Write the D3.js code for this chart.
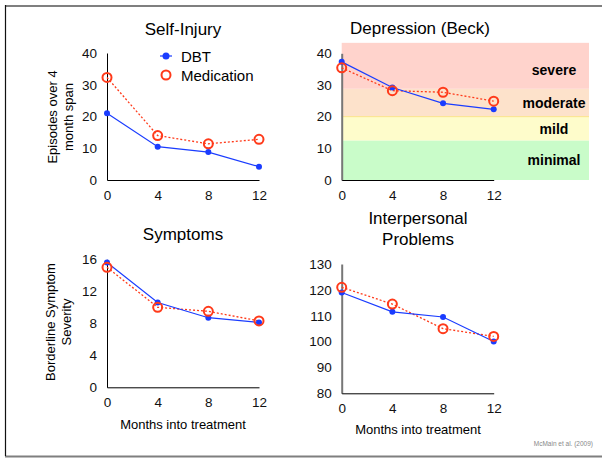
<!DOCTYPE html>
<html>
<head>
<meta charset="utf-8">
<script src="https://cdn.jsdelivr.net/npm/d3@7"></script>
<style>
  body { margin: 0; background: #fff; }
  svg { display: block; font-family: "Liberation Sans", Arial, Helvetica, sans-serif; }
</style>
</head>
<body>
<svg id="chart" width="602" height="458"></svg>
<script>
// months into treatment
var months = [0, 4, 8, 12];

var selfInjuryDBT = [21, 10.5, 8.8, 4.2];
var selfInjuryMed = [32.3, 14, 11.4, 12.8];

var depressionDBT = [37.3, 29.2, 24.2, 22.3];
var depressionMed = [35.4, 28.2, 27.7, 24.9];

var symptomsDBT = [15.6, 10.6, 8.7, 8.1];
var symptomsMed = [15.0, 10.0, 9.5, 8.3];

var interpersonalDBT = [119, 111.5, 109.5, 100];
var interpersonalMed = [121, 114.5, 105, 102];

// Beck severity bands
var bandNames = ["minimal", "mild", "moderate", "severe"];
var bandLow = [0, 12.5, 20, 28.8];
var bandHigh = [12.5, 20, 28.8, 43.3];

var selfInjuryTicks = [0, 10, 20, 30, 40];
var depressionTicks = [0, 10, 20, 30, 40];
var symptomsTicks = [0, 4, 8, 12, 16];
var interpersonalTicks = [80, 90, 100, 110, 120, 130];

var blue = "#1a3cff";
var red = "#ff3a1a";
var bandColors = { minimal: "#c9fcc9", mild: "#fefccb", moderate: "#fde2cb", severe: "#ffd3cc" };

var svg = d3.select("#chart");

// frame
svg.append("line").attr("x1", 5).attr("x2", 602).attr("y1", 6).attr("y2", 6)
  .attr("stroke", "#7f7f7f").attr("stroke-width", 2);
svg.append("line").attr("x1", 5).attr("x2", 602).attr("y1", 456.5).attr("y2", 456.5)
  .attr("stroke", "#7f7f7f").attr("stroke-width", 2);
svg.append("line").attr("x1", 5.5).attr("x2", 5.5).attr("y1", 5).attr("y2", 456)
  .attr("stroke", "#111").attr("stroke-width", 1.2);

function panel(opts) {
  var x = d3.scaleLinear().domain([0, 12]).range([opts.left, opts.left + 152]);
  var y = d3.scaleLinear().domain(opts.domain).range([opts.bottom, opts.top]);
  var g = svg.append("g");

  if (opts.bands) {
    g.selectAll("rect.band")
      .data(bandNames)
      .enter()
      .append("rect")
      .attr("class", "band")
      .attr("x", x(0))
      .attr("width", 589 - x(0))
      .attr("y", function (d, i) { return y(bandHigh[i]); })
      .attr("height", function (d, i) { return y(bandLow[i]) - y(bandHigh[i]); })
      .attr("fill", function (d) { return bandColors[d]; });
    g.append("line")
      .attr("x1", x(0)).attr("x2", 589)
      .attr("y1", y(20)).attr("y2", y(20))
      .attr("stroke", "#fbe38a").attr("stroke-width", 1);
    g.selectAll("text.band")
      .data(bandNames)
      .enter()
      .append("text")
      .attr("class", "band")
      .attr("x", 554)
      .attr("y", function (d, i) {
        var c = (y(bandLow[i]) + y(bandHigh[i])) / 2;
        return d === "severe" ? c + 4 : c;
      })
      .attr("text-anchor", "middle")
      .attr("dominant-baseline", "central")
      .style("font-size", "14px")
      .style("font-weight", "bold")
      .text(function (d) { return d; });
  }

  var yAxis = d3.axisLeft(y).tickValues(opts.ticks).tickSize(0).tickPadding(10);
  var xAxis = d3.axisBottom(x).tickValues(months).tickSize(0).tickPadding(10);

  var ya = g.append("g").attr("transform", "translate(" + opts.left + ",0)").call(yAxis);
  ya.select(".domain")
    .attr("stroke", opts.grayAxis ? "#777" : "#000")
    .attr("stroke-width", opts.grayAxis ? 2 : 1);
  var xa = g.append("g").attr("transform", "translate(0," + opts.bottom + ")").call(xAxis);
  xa.select(".domain").attr("stroke", "#000");
  g.selectAll(".tick text").style("font-size", "13.5px").attr("fill", "#111");

  // titles
  g.append("text")
    .selectAll("tspan")
    .data(opts.title)
    .enter()
    .append("tspan")
    .attr("x", opts.titleX)
    .attr("y", function (d, i) { return opts.titleY + i * 21; })
    .attr("text-anchor", "middle")
    .style("font-size", "17px")
    .text(function (d) { return d; });

  if (opts.yTitle) {
    g.append("text")
      .attr("transform", "translate(" + opts.yTitleX + "," + opts.yTitleY + ") rotate(-90)")
      .selectAll("tspan")
      .data(opts.yTitle)
      .enter()
      .append("tspan")
      .attr("x", 0)
      .attr("y", function (d, i) { return i * 16; })
      .attr("text-anchor", "middle")
      .style("font-size", "13px")
      .text(function (d) { return d; });
  }
  if (opts.xTitle) {
    g.append("text")
      .attr("x", opts.titleX)
      .attr("y", opts.xTitleY)
      .attr("text-anchor", "middle")
      .attr("dominant-baseline", "central")
      .style("font-size", "13px")
      .text("Months into treatment");
  }

  var line = d3.line()
    .x(function (d, i) { return x(months[i]); })
    .y(function (d) { return y(d); });

  g.append("path")
    .attr("d", line(opts.med))
    .attr("fill", "none")
    .attr("stroke", red)
    .attr("stroke-width", 1.3)
    .attr("stroke-dasharray", "2,2");
  g.append("path")
    .attr("d", line(opts.dbt))
    .attr("fill", "none")
    .attr("stroke", blue)
    .attr("stroke-width", 1.2);

  g.selectAll("circle.dbt")
    .data(opts.dbt)
    .enter()
    .append("circle")
    .attr("class", "dbt")
    .attr("cx", function (d, i) { return x(months[i]); })
    .attr("cy", function (d) { return y(d); })
    .attr("r", 3)
    .attr("fill", blue);
  g.selectAll("circle.med")
    .data(opts.med)
    .enter()
    .append("circle")
    .attr("class", "med")
    .attr("cx", function (d, i) { return x(months[i]); })
    .attr("cy", function (d) { return y(d); })
    .attr("r", 4.5)
    .attr("fill", "none")
    .attr("stroke", red)
    .attr("stroke-width", 2);
}

panel({
  left: 107, top: 53, bottom: 180, domain: [0, 40], ticks: selfInjuryTicks,
  dbt: selfInjuryDBT, med: selfInjuryMed,
  title: ["Self-Injury"], titleX: 183, titleY: 35,
  yTitle: ["Episodes over 4", "month span"], yTitleX: 57, yTitleY: 117
});
panel({
  left: 341.7, top: 53.3, bottom: 180, domain: [0, 40], ticks: depressionTicks,
  dbt: depressionDBT, med: depressionMed, bands: true, grayAxis: true,
  title: ["Depression (Beck)"], titleX: 420, titleY: 34
});
panel({
  left: 107, top: 259.3, bottom: 387.3, domain: [0, 16], ticks: symptomsTicks,
  dbt: symptomsDBT, med: symptomsMed,
  title: ["Symptoms"], titleX: 183, titleY: 240,
  yTitle: ["Borderline Symptom", "Severity"], yTitleX: 55, yTitleY: 322,
  xTitle: true, xTitleY: 424
});
panel({
  left: 341.7, top: 264, bottom: 393.3, domain: [80, 130], ticks: interpersonalTicks,
  dbt: interpersonalDBT, med: interpersonalMed, grayAxis: true,
  title: ["Interpersonal", "Problems"], titleX: 418, titleY: 224,
  xTitle: true, xTitleY: 429
});

// legend
var legend = svg.append("g");
legend.append("line").attr("x1", 160).attr("x2", 172).attr("y1", 56).attr("y2", 56)
  .attr("stroke", blue).attr("stroke-width", 1.2);
legend.append("circle").attr("cx", 166).attr("cy", 56).attr("r", 3.5).attr("fill", blue);
legend.append("circle").attr("cx", 166).attr("cy", 75).attr("r", 4.5)
  .attr("fill", "none").attr("stroke", red).attr("stroke-width", 2);
legend.selectAll("text")
  .data(["DBT", "Medication"])
  .enter()
  .append("text")
  .attr("x", 181)
  .attr("y", function (d, i) { return 56 + i * 19; })
  .attr("dominant-baseline", "central")
  .style("font-size", "15px")
  .text(function (d) { return d; });

svg.append("text")
  .attr("x", 593).attr("y", 443)
  .attr("text-anchor", "end")
  .attr("dominant-baseline", "central")
  .style("font-size", "6.5px")
  .attr("fill", "#888")
  .text("McMain et al. (2009)");
</script>
</body>
</html>
